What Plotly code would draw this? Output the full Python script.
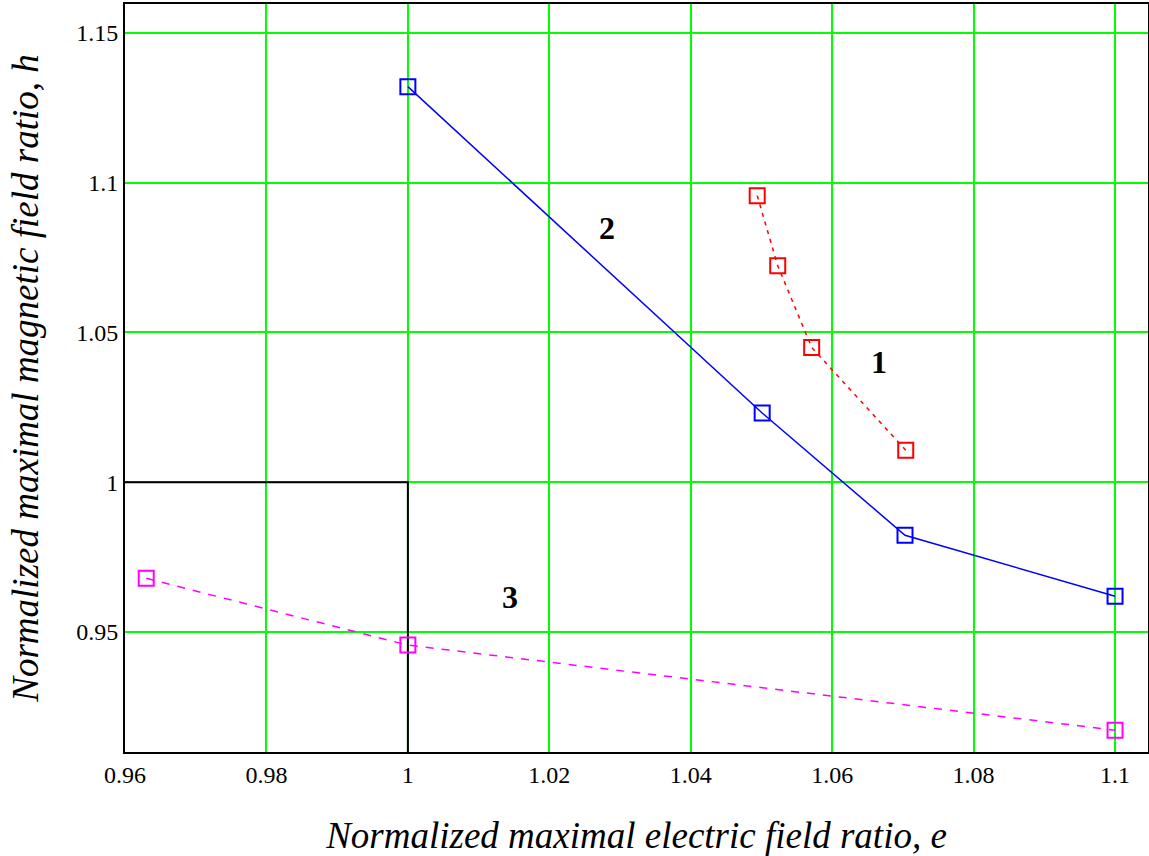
import plotly.graph_objects as go

# Series 1 (red, dashed)
e1 = [1.0494, 1.0523, 1.0571, 1.0704]
h1 = [1.0957, 1.0723, 1.0450, 1.0107]
# Series 2 (blue, solid)
e2 = [1.0, 1.0501, 1.0703, 1.1]
h2 = [1.1321, 1.0231, 0.9823, 0.9619]
# Series 3 (magenta, dashed)
e3 = [0.963, 1.0, 1.1]
h3 = [0.9679, 0.9456, 0.9172]
# Boundary (black)
eb = [0.9, 1.0, 1.0]
hb = [1.0, 1.0, 0.8]

x_ticks = [0.96, 0.98, 1.0, 1.02, 1.04, 1.06, 1.08, 1.1]
x_labels = ["0.96", "0.98", "1", "1.02", "1.04", "1.06", "1.08", "1.1"]
y_ticks = [0.95, 1.0, 1.05, 1.1, 1.15]
y_labels = ["0.95", "1", "1.05", "1.1", "1.15"]

labels = ["1", "2", "3"]
label_e = [1.0666, 1.0281, 1.0145]
label_h = [1.0403, 1.085, 0.9617]

fig = go.Figure()
fig.add_trace(go.Scatter(x=eb, y=hb, mode="lines", line=dict(color="black", width=2), showlegend=False))
fig.add_trace(go.Scatter(x=e1, y=h1, mode="lines+markers",
                         line=dict(color="#ff0000", width=1.5, dash="4px,5px"),
                         marker=dict(symbol="square-open", size=15, color="#ff0000", line=dict(width=2)),
                         showlegend=False))
fig.add_trace(go.Scatter(x=e2, y=h2, mode="lines+markers",
                         line=dict(color="#0000ff", width=1.5),
                         marker=dict(symbol="square-open", size=15, color="#0000ff", line=dict(width=2)),
                         showlegend=False))
fig.add_trace(go.Scatter(x=e3, y=h3, mode="lines+markers",
                         line=dict(color="#ff00ff", width=1.5, dash="8px,8px"),
                         marker=dict(symbol="square-open", size=15, color="#ff00ff", line=dict(width=2)),
                         showlegend=False))

for t, xe, yh in zip(labels, label_e, label_h):
    fig.add_annotation(x=xe, y=yh, text="<b>" + t + "</b>", showarrow=False,
                       font=dict(family="Liberation Serif", size=32, color="black"))

fig.update_layout(
    width=1149, height=856,
    margin=dict(l=125, r=1, t=4, b=104),
    plot_bgcolor="white", paper_bgcolor="white",
    font=dict(family="Liberation Serif", color="black"),
)
fig.update_xaxes(range=[0.96, 1.10466], tickvals=x_ticks, ticktext=x_labels, automargin=False,
                 showgrid=True, gridcolor="#00ff00", gridwidth=2,
                 showline=True, linecolor="black", linewidth=2, mirror=True,
                 zeroline=False, ticks="", tickfont=dict(size=24, family="Liberation Serif"),
                 title=dict(text="Normalized maximal electric field ratio, e",
                            font=dict(size=37, family="Liberation Serif", style="italic"), standoff=36))
fig.update_yaxes(range=[0.9099, 1.1597], tickvals=y_ticks, ticktext=y_labels, automargin=False,
                 showgrid=True, gridcolor="#00ff00", gridwidth=2,
                 showline=True, linecolor="black", linewidth=2, mirror=True,
                 zeroline=False, ticks="", tickfont=dict(size=24, family="Liberation Serif"),
                 title=dict(text="Normalized maximal magnetic field ratio, h",
                            font=dict(size=37, family="Liberation Serif", style="italic"), standoff=26))

fig.write_html("out.html", config={"displayModeBar": False},
               post_script="document.body.style.margin='0';document.body.style.overflow='hidden';")
